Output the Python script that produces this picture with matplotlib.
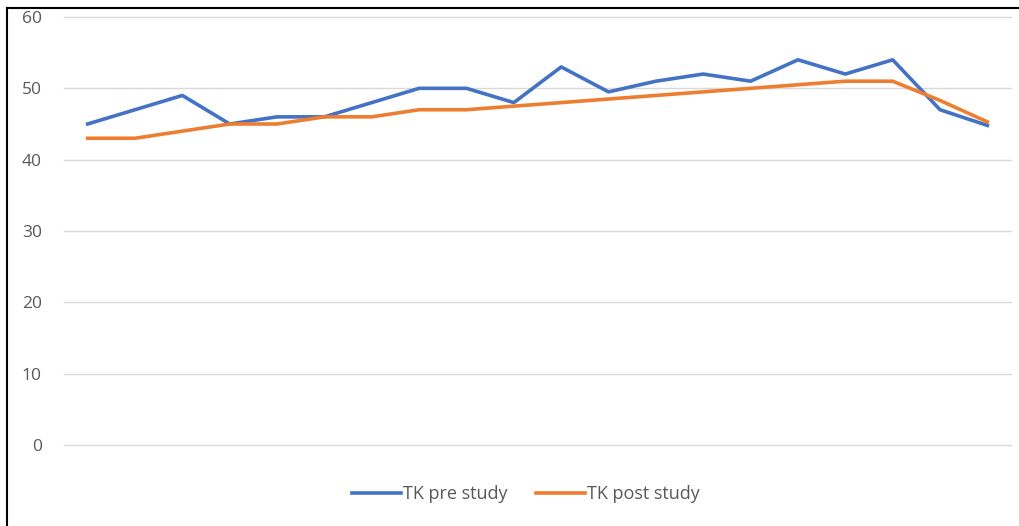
import matplotlib
matplotlib.use("Agg")
import matplotlib.pyplot as plt
from matplotlib.lines import Line2D

# Series values
pre_study = [45, 47, 49, 45, 46, 46, 48, 50, 50, 48, 53, 49.5, 51, 52, 51, 54, 52, 54, 47, 44.8]
post_study = [43, 43, 44, 45, 45, 46, 46, 47, 47, 47.5, 48, 48.5, 49, 49.5, 50, 50.5, 51, 51, 48.3, 45.3]
series_names = ["TK pre study", "TK post study"]
y_ticks = [0, 10, 20, 30, 40, 50, 60]

plt.rcParams['font.family'] = ['Open Sans', 'DejaVu Sans']

fig = plt.figure(figsize=(10.19, 5.26), dpi=100)
ax = fig.add_axes([0.0628, 0.154, 0.9294, 0.8137])

x = list(range(len(pre_study)))
ax.plot(x, pre_study, color="#4472C4", lw=2.6, label=series_names[0], solid_joinstyle="round")
ax.plot(x, post_study, color="#ED7D31", lw=2.6, label=series_names[1], solid_joinstyle="round")

ax.set_xlim(-0.5, len(x) - 0.5)
ax.set_ylim(0, 60)
ax.set_yticks(y_ticks)
ax.set_xticks([])
for yv in y_ticks:
    ax.axhline(yv, color="#D9D9D9", lw=1, zorder=0, clip_on=False)
for s in ax.spines.values():
    s.set_visible(False)
ax.tick_params(axis="y", length=0, pad=16, labelsize=12.5, labelcolor="#595959")

leg = fig.legend(loc="center", bbox_to_anchor=(0.516, 0.061), ncol=2, frameon=False,
                 fontsize=13, handlelength=2.7, columnspacing=1.6, handletextpad=0.1)
for t in leg.get_texts():
    t.set_color("#595959")

# frame edges along the top and left
fig.add_artist(Line2D([0.0069, 1.0], [0.985, 0.985], transform=fig.transFigure, color="black", lw=1.5))
fig.add_artist(Line2D([0.0069, 0.0069], [0.0, 0.985], transform=fig.transFigure, color="black", lw=1.5))

fig.savefig("out.png", dpi=100, facecolor="white")
